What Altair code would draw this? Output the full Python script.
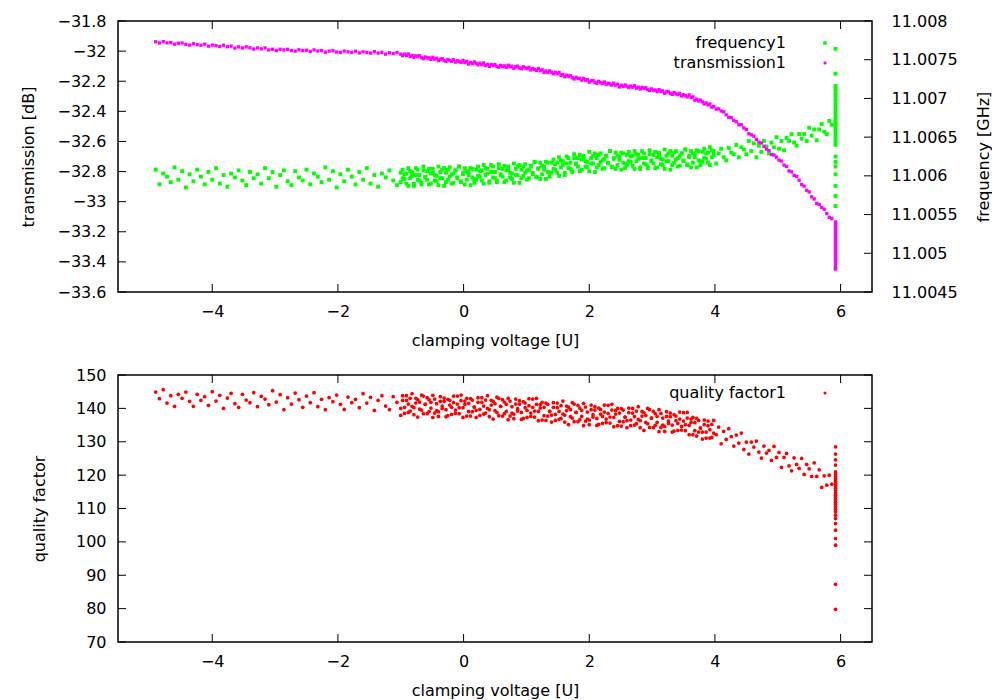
import altair as alt
import pandas as pd

# ---------------- data ----------------
# clamping voltage sweep (U)
voltage_sparse = [-4.90, -4.84, -4.78, -4.72, -4.66, -4.60, -4.54, -4.48, -4.42, -4.36,
                  -4.30, -4.24, -4.18, -4.12, -4.06, -4.00, -3.94, -3.88, -3.82, -3.76,
                  -3.70, -3.64, -3.58, -3.52, -3.46, -3.40, -3.34, -3.28, -3.22, -3.16,
                  -3.10, -3.04, -2.98, -2.92, -2.86, -2.80, -2.74, -2.68, -2.62, -2.56,
                  -2.50, -2.44, -2.38, -2.32, -2.26, -2.20, -2.14, -2.08, -2.02, -1.96,
                  -1.90, -1.84, -1.78, -1.72, -1.66, -1.60, -1.54, -1.48, -1.42, -1.36,
                  -1.30, -1.24, -1.18, -1.12, -1.06]
voltage_dense = [-1.00, -0.97, -0.94, -0.91, -0.88, -0.85, -0.82, -0.79, -0.76, -0.73,
                 -0.70, -0.67, -0.64, -0.61, -0.58, -0.55, -0.52, -0.49, -0.46, -0.43,
                 -0.40, -0.37, -0.34, -0.31, -0.28, -0.25, -0.22, -0.19, -0.16, -0.13,
                 -0.10, -0.07, -0.04, -0.01, 0.02, 0.05, 0.08, 0.11, 0.14, 0.17,
                 0.20, 0.23, 0.26, 0.29, 0.32, 0.35, 0.38, 0.41, 0.44, 0.47,
                 0.50, 0.53, 0.56, 0.59, 0.62, 0.65, 0.68, 0.71, 0.74, 0.77,
                 0.80, 0.83, 0.86, 0.89, 0.92, 0.95, 0.98, 1.01, 1.04, 1.07,
                 1.10, 1.13, 1.16, 1.19, 1.22, 1.25, 1.28, 1.31, 1.34, 1.37,
                 1.40, 1.43, 1.46, 1.49, 1.52, 1.55, 1.58, 1.61, 1.64, 1.67,
                 1.70, 1.73, 1.76, 1.79, 1.82, 1.85, 1.88, 1.91, 1.94, 1.97,
                 2.00, 2.03, 2.06, 2.09, 2.12, 2.15, 2.18, 2.21, 2.24, 2.27,
                 2.30, 2.33, 2.36, 2.39, 2.42, 2.45, 2.48, 2.51, 2.54, 2.57,
                 2.60, 2.63, 2.66, 2.69, 2.72, 2.75, 2.78, 2.81, 2.84, 2.87,
                 2.90, 2.93, 2.96, 2.99, 3.02, 3.05, 3.08, 3.11, 3.14, 3.17,
                 3.20, 3.23, 3.26, 3.29, 3.32, 3.35, 3.38, 3.41, 3.44, 3.47,
                 3.50, 3.53, 3.56, 3.59, 3.62, 3.65, 3.68, 3.71, 3.74, 3.77,
                 3.80, 3.83, 3.86, 3.89, 3.92, 3.95, 3.98]
voltage_tail = [4.02, 4.06, 4.10, 4.14, 4.18, 4.22, 4.26, 4.30, 4.34, 4.38,
                4.42, 4.46, 4.50, 4.54, 4.58, 4.62, 4.66, 4.70, 4.74, 4.78,
                4.82, 4.86, 4.90, 4.94, 4.98, 5.02, 5.06, 5.10, 5.14, 5.18,
                5.22, 5.26, 5.30, 5.34, 5.38, 5.42, 5.46, 5.50, 5.54, 5.58,
                5.62, 5.66, 5.70, 5.74, 5.78, 5.82, 5.86]
voltage_end = [5.92, 5.92, 5.92, 5.92, 5.92, 5.92, 5.92, 5.92, 5.92, 5.92,
               5.92, 5.92, 5.92, 5.92, 5.92, 5.92, 5.92, 5.92, 5.92, 5.92,
               5.92, 5.92, 5.92, 5.92, 5.92, 5.92, 5.92, 5.92, 5.92, 5.92]

# transmission (dB)
transmission_sparse = [-31.938, -31.946, -31.937, -31.945, -31.943, -31.954, -31.948, -31.946, -31.955, -31.960,
                       -31.951, -31.957, -31.961, -31.954, -31.967, -31.960, -31.964, -31.970, -31.961, -31.971,
                       -31.967, -31.980, -31.972, -31.979, -31.972, -31.978, -31.986, -31.979, -31.985, -31.979,
                       -31.992, -31.988, -31.996, -31.988, -31.992, -31.988, -31.996, -32.000, -31.991, -31.996,
                       -31.994, -32.002, -31.992, -31.999, -31.996, -32.007, -32.000, -31.997, -32.006, -32.009,
                       -32.000, -32.005, -32.008, -32.001, -32.012, -32.005, -32.008, -32.013, -32.003, -32.013,
                       -32.008, -32.020, -32.011, -32.017, -32.009]
transmission_dense = [-32.020, -32.030, -32.020, -32.028, -32.019, -32.036, -32.029, -32.042, -32.031, -32.037,
                      -32.031, -32.043, -32.050, -32.039, -32.046, -32.044, -32.055, -32.041, -32.053, -32.048,
                      -32.063, -32.054, -32.050, -32.062, -32.068, -32.055, -32.062, -32.067, -32.057, -32.073,
                      -32.064, -32.068, -32.075, -32.062, -32.075, -32.068, -32.086, -32.075, -32.083, -32.072,
                      -32.081, -32.091, -32.080, -32.089, -32.079, -32.096, -32.089, -32.101, -32.090, -32.096,
                      -32.090, -32.101, -32.107, -32.095, -32.101, -32.098, -32.108, -32.094, -32.105, -32.100,
                      -32.115, -32.104, -32.100, -32.112, -32.117, -32.104, -32.111, -32.116, -32.108, -32.125,
                      -32.116, -32.121, -32.129, -32.116, -32.130, -32.124, -32.142, -32.132, -32.141, -32.131,
                      -32.140, -32.151, -32.141, -32.150, -32.142, -32.161, -32.156, -32.170, -32.160, -32.167,
                      -32.164, -32.177, -32.185, -32.174, -32.183, -32.181, -32.193, -32.181, -32.193, -32.190,
                      -32.206, -32.198, -32.195, -32.208, -32.214, -32.201, -32.210, -32.214, -32.205, -32.222,
                      -32.213, -32.218, -32.226, -32.213, -32.226, -32.220, -32.238, -32.227, -32.235, -32.225,
                      -32.233, -32.242, -32.232, -32.240, -32.230, -32.246, -32.240, -32.252, -32.241, -32.247,
                      -32.243, -32.255, -32.262, -32.251, -32.260, -32.258, -32.269, -32.256, -32.268, -32.264,
                      -32.280, -32.271, -32.268, -32.281, -32.287, -32.275, -32.284, -32.289, -32.281, -32.298,
                      -32.290, -32.295, -32.304, -32.291, -32.307, -32.304, -32.326, -32.319, -32.331, -32.325,
                      -32.337, -32.351, -32.344, -32.357, -32.351, -32.372, -32.369]
transmission_tail = [-32.385, -32.384, -32.398, -32.403, -32.423, -32.440, -32.442, -32.460, -32.469, -32.489,
                     -32.489, -32.510, -32.521, -32.549, -32.556, -32.565, -32.586, -32.605, -32.610, -32.632,
                     -32.651, -32.660, -32.687, -32.690, -32.704, -32.724, -32.730, -32.757, -32.766, -32.796,
                     -32.802, -32.825, -32.832, -32.857, -32.886, -32.897, -32.924, -32.935, -32.968, -32.982,
                     -33.012, -33.019, -33.039, -33.050, -33.079, -33.104, -33.113]
transmission_end = [-33.135, -33.145, -33.155, -33.165, -33.175, -33.185, -33.195, -33.205, -33.215, -33.225,
                    -33.235, -33.245, -33.255, -33.265, -33.275, -33.285, -33.295, -33.305, -33.315, -33.325,
                    -33.335, -33.345, -33.355, -33.365, -33.375, -33.385, -33.395, -33.410, -33.430, -33.448]

# resonance frequency (GHz)
frequency_sparse = [11.00608, 11.00589, 11.00603, 11.00599, 11.00592, 11.00611, 11.00595, 11.00606, 11.00585, 11.00602,
                    11.00593, 11.00608, 11.00599, 11.00589, 11.00605, 11.00595, 11.00610, 11.00590, 11.00601, 11.00586,
                    11.00603, 11.00598, 11.00607, 11.00594, 11.00588, 11.00605, 11.00597, 11.00602, 11.00590, 11.00610,
                    11.00597, 11.00605, 11.00586, 11.00601, 11.00607, 11.00593, 11.00588, 11.00606, 11.00598, 11.00594,
                    11.00608, 11.00589, 11.00603, 11.00599, 11.00592, 11.00611, 11.00595, 11.00606, 11.00585, 11.00602,
                    11.00593, 11.00608, 11.00599, 11.00589, 11.00605, 11.00595, 11.00610, 11.00590, 11.00601, 11.00586,
                    11.00603, 11.00598, 11.00607, 11.00594, 11.00588]
frequency_dense = [11.00604, 11.00597, 11.00602, 11.00590, 11.00610, 11.00597, 11.00605, 11.00587, 11.00601, 11.00608,
                   11.00594, 11.00589, 11.00607, 11.00599, 11.00595, 11.00609, 11.00590, 11.00604, 11.00601, 11.00593,
                   11.00612, 11.00597, 11.00608, 11.00587, 11.00604, 11.00595, 11.00611, 11.00602, 11.00591, 11.00607,
                   11.00598, 11.00612, 11.00593, 11.00604, 11.00589, 11.00606, 11.00601, 11.00610, 11.00598, 11.00591,
                   11.00608, 11.00600, 11.00606, 11.00594, 11.00614, 11.00601, 11.00609, 11.00591, 11.00605, 11.00612,
                   11.00597, 11.00592, 11.00610, 11.00602, 11.00599, 11.00613, 11.00594, 11.00608, 11.00604, 11.00596,
                   11.00616, 11.00601, 11.00612, 11.00591, 11.00608, 11.00600, 11.00615, 11.00607, 11.00597, 11.00613,
                   11.00604, 11.00618, 11.00599, 11.00610, 11.00596, 11.00613, 11.00608, 11.00618, 11.00605, 11.00599,
                   11.00617, 11.00609, 11.00615, 11.00604, 11.00624, 11.00611, 11.00619, 11.00601, 11.00616, 11.00623,
                   11.00609, 11.00605, 11.00623, 11.00616, 11.00612, 11.00627, 11.00608, 11.00623, 11.00619, 11.00611,
                   11.00631, 11.00616, 11.00626, 11.00605, 11.00623, 11.00614, 11.00629, 11.00620, 11.00610, 11.00626,
                   11.00617, 11.00632, 11.00612, 11.00623, 11.00609, 11.00626, 11.00621, 11.00630, 11.00617, 11.00610,
                   11.00627, 11.00619, 11.00625, 11.00613, 11.00632, 11.00619, 11.00627, 11.00609, 11.00623, 11.00629,
                   11.00615, 11.00610, 11.00628, 11.00620, 11.00616, 11.00631, 11.00611, 11.00626, 11.00622, 11.00614,
                   11.00634, 11.00619, 11.00629, 11.00608, 11.00626, 11.00617, 11.00632, 11.00623, 11.00613, 11.00629,
                   11.00620, 11.00634, 11.00615, 11.00626, 11.00611, 11.00629, 11.00624, 11.00633, 11.00620, 11.00614,
                   11.00631, 11.00623, 11.00629, 11.00617, 11.00637, 11.00624, 11.00632]
# second reading at the same voltages (the dense band)
frequency_dense2 = [11.00592, 11.00608, 11.00596, 11.00603, 11.00587, 11.00606, 11.00600, 11.00590, 11.00610, 11.00595,
                    11.00601, 11.00591, 11.00612, 11.00598, 11.00606, 11.00589, 11.00603, 11.00609, 11.00594, 11.00600,
                    11.00588, 11.00605, 11.00597, 11.00610, 11.00592, 11.00608, 11.00599, 11.00590, 11.00603, 11.00607,
                    11.00597, 11.00612, 11.00592, 11.00602, 11.00610, 11.00595, 11.00605, 11.00588, 11.00609, 11.00596,
                    11.00595, 11.00612, 11.00599, 11.00607, 11.00590, 11.00610, 11.00603, 11.00593, 11.00614, 11.00598,
                    11.00605, 11.00594, 11.00615, 11.00601, 11.00609, 11.00592, 11.00607, 11.00612, 11.00598, 11.00603,
                    11.00591, 11.00609, 11.00601, 11.00614, 11.00597, 11.00612, 11.00604, 11.00595, 11.00608, 11.00613,
                    11.00602, 11.00618, 11.00598, 11.00609, 11.00617, 11.00602, 11.00612, 11.00596, 11.00617, 11.00604,
                    11.00604, 11.00621, 11.00608, 11.00617, 11.00600, 11.00620, 11.00614, 11.00604, 11.00625, 11.00610,
                    11.00617, 11.00607, 11.00628, 11.00615, 11.00623, 11.00606, 11.00621, 11.00626, 11.00612, 11.00618,
                    11.00606, 11.00623, 11.00616, 11.00629, 11.00611, 11.00627, 11.00618, 11.00609, 11.00622, 11.00626,
                    11.00616, 11.00632, 11.00611, 11.00622, 11.00630, 11.00614, 11.00625, 11.00608, 11.00629, 11.00616,
                    11.00614, 11.00631, 11.00618, 11.00626, 11.00609, 11.00628, 11.00622, 11.00611, 11.00632, 11.00616,
                    11.00623, 11.00612, 11.00633, 11.00619, 11.00627, 11.00610, 11.00624, 11.00630, 11.00615, 11.00621,
                    11.00609, 11.00626, 11.00619, 11.00632, 11.00614, 11.00630, 11.00621, 11.00612, 11.00625, 11.00629,
                    11.00619, 11.00634, 11.00614, 11.00624, 11.00632, 11.00617, 11.00628, 11.00611, 11.00632, 11.00619,
                    11.00618, 11.00635, 11.00622, 11.00630, 11.00614, 11.00633, 11.00627]
frequency_tail = [11.00616, 11.00629, 11.00635, 11.00624, 11.00620, 11.00636, 11.00630, 11.00628, 11.00640, 11.00624,
                  11.00637, 11.00634, 11.00628, 11.00645, 11.00632, 11.00642, 11.00624, 11.00639, 11.00631, 11.00645,
                  11.00638, 11.00629, 11.00643, 11.00637, 11.00650, 11.00635, 11.00645, 11.00633, 11.00649, 11.00645,
                  11.00654, 11.00643, 11.00639, 11.00654, 11.00648, 11.00654, 11.00645, 11.00662, 11.00652, 11.00660,
                  11.00646, 11.00660, 11.00667, 11.00657, 11.00654, 11.00671, 11.00666]
frequency_end = [11.00764, 11.00732, 11.00716, 11.00712, 11.00708, 11.00704, 11.00700, 11.00696, 11.00692, 11.00688,
                 11.00684, 11.00680, 11.00676, 11.00672, 11.00668, 11.00664, 11.00660, 11.00656, 11.00652, 11.00648,
                 11.00644, 11.00640, 11.00625, 11.00618, 11.00612, 11.00602, 11.00587, 11.00574, 11.00561, 11.00481]

# quality factor
quality_sparse = [144.9, 142.9, 145.6, 141.6, 143.8, 140.6, 144.2, 143.0, 144.9, 142.1,
                  140.6, 144.2, 142.4, 143.5, 140.9, 145.0, 142.2, 143.9, 140.0, 143.1,
                  144.5, 141.4, 140.3, 144.2, 142.5, 141.7, 144.7, 140.5, 143.6, 142.8,
                  141.1, 145.3, 141.9, 144.1, 139.6, 143.2, 141.3, 144.6, 142.6, 140.3,
                  143.7, 141.7, 144.7, 140.5, 142.7, 139.6, 143.2, 142.0, 144.0, 141.2,
                  139.7, 143.4, 141.7, 142.7, 140.2, 144.4, 141.6, 143.3, 139.4, 142.4,
                  143.8, 140.7, 139.6, 143.5, 141.8]
quality_dense = [140.0, 143.8, 138.5, 142.4, 141.3, 139.2, 144.4, 140.2, 143.0, 137.4,
                 141.9, 139.5, 143.7, 141.2, 138.4, 142.6, 140.1, 143.9, 138.6, 141.4,
                 137.6, 142.1, 140.7, 143.1, 139.6, 137.8, 142.4, 140.3, 141.7, 138.5,
                 143.7, 140.2, 142.3, 137.3, 141.2, 143.0, 139.1, 137.7, 142.5, 140.4,
                 139.4, 143.2, 137.9, 141.8, 140.7, 138.6, 143.8, 139.6, 142.4, 136.8,
                 141.4, 138.8, 143.0, 140.6, 137.7, 141.9, 139.1, 143.0, 137.7, 140.5,
                 136.9, 141.3, 139.9, 142.3, 138.8, 137.0, 141.6, 139.4, 140.8, 137.6,
                 142.8, 139.2, 141.2, 136.3, 140.1, 141.8, 137.8, 136.4, 141.2, 139.1,
                 138.0, 141.7, 136.4, 140.2, 139.1, 137.0, 142.2, 138.0, 140.7, 135.1,
                 139.6, 137.1, 141.3, 138.8, 136.0, 140.1, 137.6, 141.5, 136.2, 138.9,
                 135.1, 139.6, 138.1, 140.5, 137.0, 135.2, 139.7, 137.6, 138.9, 135.7,
                 140.9, 137.4, 139.5, 134.5, 138.3, 140.0, 136.1, 134.7, 139.5, 137.4,
                 136.3, 140.1, 134.8, 138.6, 137.5, 135.4, 140.5, 136.3, 139.1, 133.4,
                 137.9, 135.4, 139.6, 137.1, 134.2, 138.4, 135.8, 139.6, 134.3, 137.1,
                 133.1, 137.6, 136.2, 138.6, 135.0, 133.2, 137.7, 135.5, 136.8, 133.5,
                 138.7, 135.1, 137.1, 132.1, 135.8, 137.3, 133.3, 131.7, 136.4, 134.1,
                 132.9, 136.5, 131.1, 134.8, 133.6, 131.3, 136.4]
quality_dense2 = [137.9, 142.4, 140.3, 143.8, 138.8, 143.0, 140.6, 138.1, 141.6, 142.6,
                  139.8, 144.0, 138.4, 141.2, 143.2, 139.0, 141.8, 137.3, 142.8, 139.3,
                  139.0, 143.5, 140.0, 142.1, 137.5, 142.7, 141.0, 138.2, 143.7, 139.5,
                  141.3, 138.4, 144.0, 140.2, 142.2, 137.7, 141.5, 142.9, 139.0, 140.4,
                  137.3, 141.8, 139.7, 143.2, 138.3, 142.5, 140.0, 137.5, 141.0, 142.1,
                  139.3, 143.4, 137.8, 140.6, 142.6, 138.4, 141.2, 136.6, 142.2, 138.6,
                  138.3, 142.8, 139.2, 141.3, 136.7, 142.0, 140.2, 137.3, 142.9, 138.6,
                  140.3, 137.4, 143.0, 139.1, 141.1, 136.5, 140.3, 141.6, 137.7, 139.1,
                  135.9, 140.3, 138.2, 141.6, 136.7, 140.8, 138.3, 135.9, 139.3, 140.4,
                  137.5, 141.7, 136.0, 138.8, 140.9, 136.6, 139.4, 134.8, 140.4, 136.8,
                  136.5, 141.0, 137.4, 139.5, 134.9, 140.1, 138.3, 135.5, 141.0, 136.8,
                  138.5, 135.6, 141.2, 137.3, 139.4, 134.8, 138.6, 139.9, 136.0, 137.4,
                  134.2, 138.7, 136.5, 140.0, 135.0, 139.2, 136.7, 134.2, 137.7, 138.7,
                  135.8, 140.0, 134.3, 137.1, 139.1, 134.9, 137.6, 133.0, 138.5, 135.0,
                  134.6, 139.0, 135.5, 137.5, 132.9, 138.1, 136.3, 133.4, 138.9, 134.6,
                  136.2, 133.3, 138.8, 134.9, 136.8, 132.1, 135.7, 137.0, 132.9, 134.1,
                  130.8, 135.1, 132.9, 136.2, 131.1, 135.2, 132.6]
quality_tail = [132.1, 134.4, 129.4, 133.1, 130.7, 133.9, 131.5, 128.7, 132.0, 129.6,
                132.6, 127.7, 129.9, 126.3, 129.9, 128.4, 130.2, 126.9, 125.1, 128.7,
                126.6, 127.4, 124.4, 128.6, 125.3, 126.8, 122.3, 125.3, 126.5, 122.8,
                121.3, 125.2, 123.2, 122.0, 125.0, 120.2, 123.2, 121.9, 119.6, 123.7,
                119.6, 121.6, 116.3, 119.8, 117.0, 120.0, 117.3]
quality_end = [128.5, 126.3, 124.6, 123.0, 121.0, 120.3, 119.6, 118.9, 118.2, 117.5,
               116.8, 116.1, 115.4, 114.7, 114.0, 113.3, 112.6, 111.9, 111.2, 110.5,
               109.8, 109.0, 108.0, 107.0, 105.5, 103.5, 101.0, 99.0, 87.3, 79.8]

# tick values
x_ticks = [-4, -2, 0, 2, 4, 6]
t_ticks = [-33.6, -33.4, -33.2, -33.0, -32.8, -32.6, -32.4, -32.2, -32.0, -31.8]
f_ticks = [11.0045, 11.005, 11.0055, 11.006, 11.0065, 11.007, 11.0075, 11.008]
q_ticks = [70, 80, 90, 100, 110, 120, 130, 140, 150]

# ---------------- chart ----------------
data = pd.DataFrame({
    "voltage": voltage_sparse + voltage_dense + voltage_tail + voltage_end,
    "transmission": transmission_sparse + transmission_dense + transmission_tail + transmission_end,
    "frequency": frequency_sparse + frequency_dense + frequency_tail + frequency_end,
    "quality": quality_sparse + quality_dense + quality_tail + quality_end,
})
data2 = pd.DataFrame({
    "voltage": voltage_dense,
    "frequency": frequency_dense2,
    "quality": quality_dense2,
})

FONT = "DejaVu Sans"
FS = 16
W = 754
H1 = 271
H2 = 267
TICK = 8
GREEN = "#00ff00"
MAGENTA = "#ff00ff"
RED = "#ff0000"

x_scale = alt.Scale(domain=[-5.5, 6.5], nice=False, zero=False)
t_scale = alt.Scale(domain=[-33.6, -31.8], nice=False, zero=False)
f_scale = alt.Scale(domain=[11.0045, 11.008], nice=False, zero=False)
q_scale = alt.Scale(domain=[70, 150], nice=False, zero=False)


def axis(**kw):
    base = dict(grid=False, domain=False, ticks=False, labelFont=FONT, titleFont=FONT,
                labelFontSize=FS, titleFontSize=FS, labelColor="black", titleColor="black",
                titleFontWeight="normal", format="~g", labelOverlap=False)
    base.update(kw)
    return alt.Axis(**base)


x_axis = axis(values=x_ticks, labelPadding=11, title="clamping voltage [U]", titlePadding=13)
q_axis = axis(orient="left", values=q_ticks, format="d", labelPadding=12,
              title="quality factor", titlePadding=28)
x_enc = alt.X("voltage:Q", scale=x_scale, axis=x_axis)


def x_tick_rules(h):
    d = pd.DataFrame({"voltage": x_ticks})
    bottom = alt.Chart(d).mark_rule(color="black", strokeWidth=1).encode(
        x=x_enc, y=alt.value(h), y2=alt.value(h - TICK))
    top = alt.Chart(d).mark_rule(color="black", strokeWidth=1).encode(
        x=x_enc, y=alt.value(0), y2=alt.value(TICK))
    return [bottom, top]


def y_tick_rule(field, values, scale, side, ax):
    d = pd.DataFrame({field: values})
    if side == "left":
        xs = dict(x=alt.value(0), x2=alt.value(TICK))
    else:
        xs = dict(x=alt.value(W), x2=alt.value(W - TICK))
    return alt.Chart(d).mark_rule(color="black", strokeWidth=1).encode(
        y=alt.Y(f"{field}:Q", scale=scale, axis=ax), **xs)


def legend_item(label, color, y, size, shape="square"):
    d = pd.DataFrame({"label": [label]})
    txt = alt.Chart(d).mark_text(align="right", baseline="middle", font=FONT,
                                 fontSize=FS, color="black").encode(
        text="label:N", x=alt.value(668), y=alt.value(y))
    sym = alt.Chart(d).mark_point(shape=shape, size=size, color=color, filled=True,
                                  opacity=1).encode(x=alt.value(707), y=alt.value(y))
    return [txt, sym]


freq_pts = alt.Chart(data).mark_square(size=15, color=GREEN, opacity=1).encode(
    x=x_enc,
    y=alt.Y("frequency:Q", scale=f_scale,
            axis=axis(orient="right", values=f_ticks, labelPadding=19,
                      title="frequency [GHz]", titlePadding=18, titleAngle=270,
                      titleBaseline="top")),
)
freq_pts2 = alt.Chart(data2).mark_square(size=15, color=GREEN, opacity=1).encode(
    x=x_enc,
    y=alt.Y("frequency:Q", scale=f_scale, axis=None),
)
trans_pts = alt.Chart(data).mark_square(size=11, color=MAGENTA, opacity=1).encode(
    x=x_enc,
    y=alt.Y("transmission:Q", scale=t_scale,
            axis=axis(orient="left", values=t_ticks, labelPadding=12,
                      title="transmission [dB]", titlePadding=20)),
)

top = alt.layer(
    freq_pts, freq_pts2, trans_pts,
    *x_tick_rules(H1),
    y_tick_rule("transmission", t_ticks, t_scale, "left", None),
    y_tick_rule("frequency", f_ticks, f_scale, "right", None),
    *legend_item("frequency1", GREEN, 22, 12),
    *legend_item("transmission1", MAGENTA, 42, 8),
).resolve_scale(y="independent").properties(width=W, height=H1)

q_pts = alt.Chart(data).mark_circle(size=14, color=RED, opacity=1).encode(
    x=x_enc, y=alt.Y("quality:Q", scale=q_scale, axis=q_axis),
)
q_pts2 = alt.Chart(data2).mark_circle(size=14, color=RED, opacity=1).encode(
    x=x_enc, y=alt.Y("quality:Q", scale=q_scale, axis=q_axis),
)

bottom = alt.layer(
    q_pts, q_pts2,
    *x_tick_rules(H2),
    y_tick_rule("quality", q_ticks, q_scale, "left", q_axis),
    y_tick_rule("quality", q_ticks, q_scale, "right", q_axis),
    *legend_item("quality factor1", RED, 18, 10, "circle"),
).properties(width=W, height=H2)

chart = alt.vconcat(top, bottom, spacing=83, bounds="flush").properties(
    padding={"left": 12, "top": 4, "right": 0, "bottom": 0},
    background="white",
).configure_view(stroke="black", strokeWidth=1.5)

chart.save("out.html", embed_options={"renderer": "svg", "actions": False})
